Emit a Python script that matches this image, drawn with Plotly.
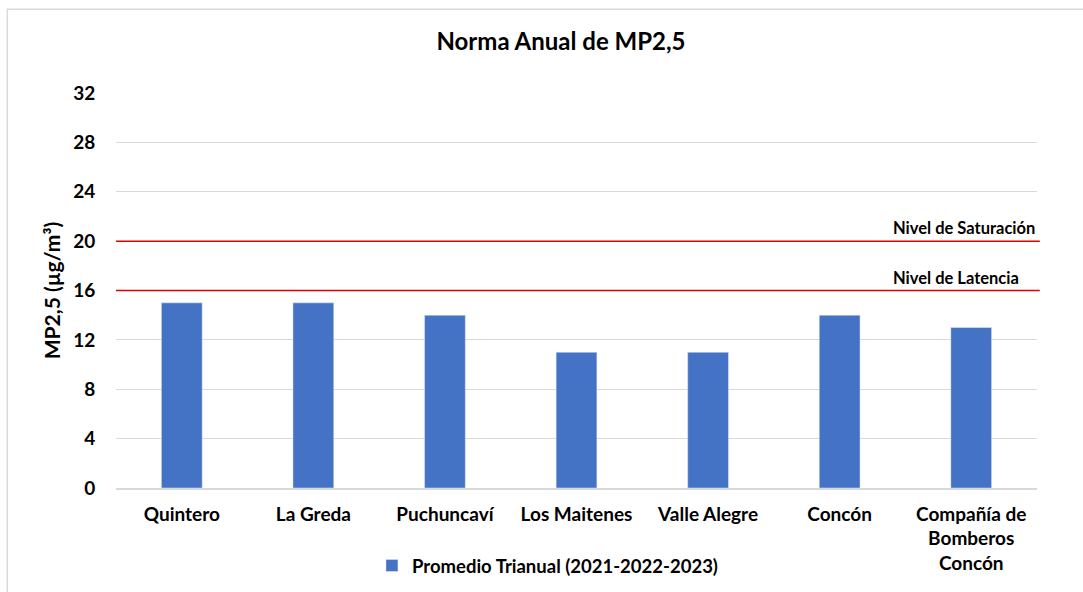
import plotly.graph_objects as go

categories = ["Quintero", "La Greda", "Puchuncaví", "Los Maitenes", "Valle Alegre", "Concón",
              "Compañía de<br>Bomberos<br>Concón"]
values = [15, 15, 14, 11, 11, 14, 13]
series_name = "Promedio Trianual (2021-2022-2023)"
saturacion = 20
latencia = 16
y_ticks = [0, 4, 8, 12, 16, 20, 24, 28, 32]

FONT = "Lato, 'Open Sans', sans-serif"
fig = go.Figure()
fig.add_trace(go.Bar(x=categories, y=values, name=series_name, marker_color="#4472C4",
                     showlegend=True))

for lvl, label in [(saturacion, "Nivel de Saturación"), (latencia, "Nivel de Latencia")]:
    fig.add_shape(type="line", xref="paper", yref="y", x0=0, x1=1.003, y0=lvl, y1=lvl,
                  line=dict(color="#E00000", width=1.5))
    fig.add_annotation(xref="paper", yref="y", x=0.8415, y=lvl, yshift=13, xanchor="left",
                       yanchor="middle", text="<b>" + label + "</b>", showarrow=False,
                       font=dict(family=FONT, size=16.5, color="#000"))

# outer chart border
fig.add_shape(type="rect", xref="paper", yref="paper", x0=-0.118, x1=1.2, y0=-0.5, y1=1.212,
              line=dict(color="#d9d9d9", width=1.5), layer="below")

fig.update_layout(
    width=1083, height=592,
    margin=dict(l=116, r=46, t=93, b=104, autoexpand=False),
    paper_bgcolor="white", plot_bgcolor="white",
    title=dict(text="<b>Norma Anual de MP2,5</b>", x=0.518, xanchor="center", y=0.929,
               yanchor="middle", font=dict(family=FONT, size=24, color="#000")),
    bargap=0.69,
    font=dict(family=FONT, color="#000"),
    legend=dict(orientation="h", xref="container", yref="container", x=0.5055, xanchor="center",
                y=0.044, yanchor="middle", itemwidth=30,
                font=dict(family=FONT, size=18.5, color="#000", weight="bold")),
    xaxis=dict(showgrid=False, showline=True, linecolor="#d9d9d9", linewidth=1.5,
               tickfont=dict(family=FONT, size=19, color="#000", weight="bold"),
               ticks="outside", ticklen=8, tickcolor="rgba(0,0,0,0)", tickangle=0),
    yaxis=dict(range=[0, 32], tickvals=y_ticks, showgrid=True, gridcolor="#d9d9d9",
               gridwidth=1, zeroline=False,
               tickfont=dict(family=FONT, size=19, color="#000", weight="bold"),
               ticks="outside", ticklen=16, tickcolor="rgba(0,0,0,0)",
               title=dict(text="<b>MP2,5 (µg/m³)</b>", font=dict(family=FONT, size=21, color="#000"),
                          standoff=6)),
)

fig.write_html("out.html", config={"displayModeBar": False},
               post_script="document.body.style.margin='0';")
